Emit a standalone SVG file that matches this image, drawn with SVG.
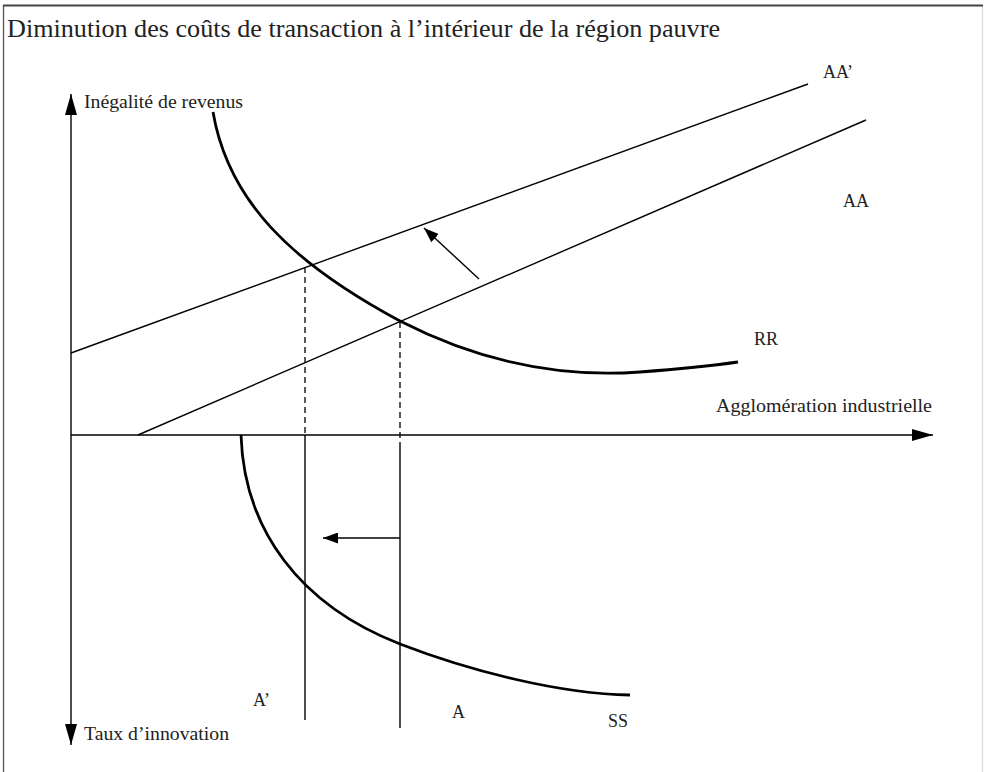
<svg xmlns="http://www.w3.org/2000/svg" width="984" height="772" viewBox="0 0 984 772">
<defs>
<style>
.t{font-family:"Liberation Serif","Times New Roman","DejaVu Serif",serif;fill:#222}
.ln{stroke:#000;stroke-width:1.4;fill:none}
.cv{stroke:#000;stroke-width:2.8;fill:none;stroke-linejoin:round}
.ds{stroke:#000;stroke-width:1.3;fill:none;stroke-dasharray:6 4}
</style>
<marker id="ah" viewBox="0 0 10 10" refX="10" refY="5" markerWidth="15" markerHeight="11" markerUnits="userSpaceOnUse" orient="auto" preserveAspectRatio="none">
<path d="M0,0 L10,5 L0,10 Z" fill="#000"/>
</marker>
<marker id="ax" viewBox="0 0 10 10" refX="10" refY="5" markerWidth="21" markerHeight="12" markerUnits="userSpaceOnUse" orient="auto" preserveAspectRatio="none">
<path d="M0,0 L10,5 L0,10 Z" fill="#000"/>
</marker>
</defs>
<rect x="0" y="0" width="984" height="772" fill="#fff"/>
<g id="frame">
<line x1="3.5" y1="5" x2="3.5" y2="772" stroke="#555" stroke-width="1.3"/>
<line x1="982.5" y1="5" x2="982.5" y2="772" stroke="#ddd" stroke-width="1.3"/>
<line x1="3" y1="5.5" x2="983" y2="5.5" stroke="#444" stroke-width="2.2"/>
</g>
<g id="title"><text class="t" x="7" y="37" font-size="26" textLength="713" lengthAdjust="spacingAndGlyphs">Diminution des coûts de transaction à l’intérieur de la région pauvre</text></g>
<g id="connectors">
<line id="y-axis-up" class="ln" x1="71" y1="435" x2="71" y2="94" marker-end="url(#ax)"/>
<line id="y-axis-down" class="ln" x1="71" y1="435" x2="71" y2="745" marker-end="url(#ax)"/>
<line id="x-axis" class="ln" x1="71" y1="435" x2="933" y2="435" marker-end="url(#ax)"/>
<line id="AAp-line" class="ln" x1="71" y1="353" x2="808" y2="84"/>
<line id="AA-line" class="ln" x1="138" y1="435" x2="866" y2="120"/>
<path id="RR-curve" class="cv" d="M213,112 C228,200 290,262 400,321 C480,362 560,378 640,372 C680,369 710,366 738,362"/>
<path id="SS-curve" class="cv" d="M241,435 C244,530 300,605 400,644 C470,671 560,694 630,695"/>
<line class="ds" x1="305" y1="267" x2="305" y2="435"/>
<line class="ds" x1="400" y1="322" x2="400" y2="445"/>
<line class="ln" x1="305" y1="435" x2="305" y2="720"/>
<line class="ln" x1="400" y1="445" x2="400" y2="728"/>
<line id="shift-up" class="ln" x1="479" y1="279" x2="424" y2="228" marker-end="url(#ah)"/>
<line id="shift-left" class="ln" x1="400" y1="538" x2="323" y2="538" marker-end="url(#ah)"/>
</g>
<g id="labels">
<text class="t" x="84" y="108" font-size="19" textLength="159" lengthAdjust="spacingAndGlyphs">Inégalité de revenus</text>
<text class="t" x="84" y="740" font-size="19" textLength="145" lengthAdjust="spacingAndGlyphs">Taux d’innovation</text>
<text class="t" x="716" y="412" font-size="19" textLength="216" lengthAdjust="spacingAndGlyphs">Agglomération industrielle</text>
<text class="t" x="823" y="78" font-size="18">AA’</text>
<text class="t" x="843" y="207" font-size="18">AA</text>
<text class="t" x="754" y="345" font-size="18">RR</text>
<text class="t" x="253" y="706" font-size="18">A’</text>
<text class="t" x="452" y="718" font-size="18">A</text>
<text class="t" x="608" y="727" font-size="18">SS</text>
</g>
</svg>
